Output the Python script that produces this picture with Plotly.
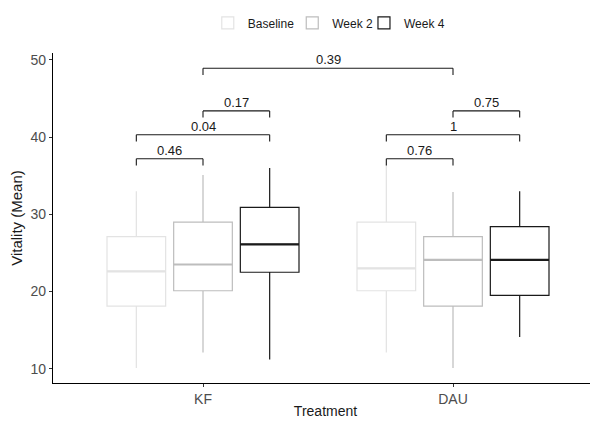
import plotly.graph_objects as go

# ---- data ----
treatments = ["KF", "DAU"]
timepoints = ["Baseline", "Week 2", "Week 4"]
lower_fence = {"Baseline": [10.1, 12.1], "Week 2": [12.1, 10.1], "Week 4": [11.2, 14.1]}
q1_vals = {"Baseline": [18.1, 20.1], "Week 2": [20.1, 18.1], "Week 4": [22.5, 19.5]}
median_vals = {"Baseline": [22.6, 23.0], "Week 2": [23.5, 24.1], "Week 4": [26.1, 24.1]}
q3_vals = {"Baseline": [27.1, 29.0], "Week 2": [29.0, 27.1], "Week 4": [30.9, 28.4]}
upper_fence = {"Baseline": [33.0, 36.5], "Week 2": [35.1, 32.9], "Week 4": [36.0, 33.0]}

# comparisons: (treatment index, group a, group b, bracket height, p label)
comparisons = [
    (0, "Baseline", "Week 2", 37.2, "0.46"),
    (0, "Baseline", "Week 4", 40.3, "0.04"),
    (0, "Week 2", "Week 4", 43.4, "0.17"),
    (1, "Baseline", "Week 2", 37.2, "0.76"),
    (1, "Baseline", "Week 4", 40.3, "1"),
    (1, "Week 2", "Week 4", 43.4, "0.75"),
]
cross_comparison = ("Week 2", 48.93, "0.39")  # KF vs DAU at Week 2

colors = {"Baseline": "#e3e3e3", "Week 2": "#bdbdbd", "Week 4": "#1a1a1a"}
FONT = "Liberation Sans, Arial, sans-serif"

BOXGAP = 0.2
BOXGROUPGAP = 0.12
slot = (1 - BOXGAP) / len(timepoints)
box_w = slot * (1 - BOXGROUPGAP)

legend_ids = {"Baseline": "legend", "Week 2": "legend2", "Week 4": "legend3"}
legend_x = {"legend": 0.284, "legend2": 0.439, "legend3": 0.5706}


def xpos(ti, tp):
    k = timepoints.index(tp)
    return ti + (k - (len(timepoints) - 1) / 2) * slot


fig = go.Figure()
for tp in timepoints:
    fig.add_trace(go.Box(
        x=treatments,
        q1=q1_vals[tp], median=median_vals[tp], q3=q3_vals[tp],
        lowerfence=lower_fence[tp], upperfence=upper_fence[tp],
        name=tp,
        line=dict(color=colors[tp], width=1.2),
        fillcolor="white",
        boxpoints=False,
        whiskerwidth=0,
        hoverinfo="skip",
        legend=legend_ids[tp],
    ))

shapes = []
# thicker median lines (as in ggplot)
for tp in timepoints:
    for ti in range(len(treatments)):
        xc = xpos(ti, tp)
        shapes.append(dict(type="line", xref="x", yref="y",
                           x0=xc - box_w / 2, x1=xc + box_w / 2,
                           y0=median_vals[tp][ti], y1=median_vals[tp][ti],
                           line=dict(color=colors[tp], width=2.2)))

annotations = []
TICK = 0.87


def bracket(xa, xb, yb, label):
    shapes.append(dict(type="line", xref="x", yref="y", x0=xa, x1=xb, y0=yb, y1=yb,
                       line=dict(color="#1a1a1a", width=1.1)))
    for xx in (xa, xb):
        shapes.append(dict(type="line", xref="x", yref="y", x0=xx, x1=xx, y0=yb, y1=yb - TICK,
                           line=dict(color="#1a1a1a", width=1.1)))
    annotations.append(dict(x=(xa + xb) / 2, y=yb, xref="x", yref="y", text=label,
                            showarrow=False, yanchor="bottom", yshift=-1,
                            font=dict(family=FONT, size=13, color="#1a1a1a")))


for ti, a, b, yb, lab in comparisons:
    bracket(xpos(ti, a), xpos(ti, b), yb, lab)
tp_c, y_c, lab_c = cross_comparison
bracket(xpos(0, tp_c), xpos(1, tp_c), y_c, lab_c)

legend_common = dict(orientation="h", xanchor="left", y=1.091, yanchor="middle",
                     font=dict(family=FONT, size=12, color="#1a1a1a"),
                     itemwidth=30, bgcolor="rgba(0,0,0,0)")

fig.update_layout(
    width=590, height=418,
    margin=dict(l=45, r=0, t=45, b=43, autoexpand=False),
    paper_bgcolor="white", plot_bgcolor="white",
    boxmode="group", boxgap=BOXGAP, boxgroupgap=BOXGROUPGAP,
    font=dict(family=FONT, color="#4d4d4d"),
    showlegend=True,
    legend=dict(x=legend_x["legend"], **legend_common),
    legend2=dict(x=legend_x["legend2"], **legend_common),
    legend3=dict(x=legend_x["legend3"], **legend_common),
    shapes=shapes, annotations=annotations,
    xaxis=dict(type="category", range=[-0.6, 1.58], showline=True, linecolor="black",
               linewidth=1.1, ticks="outside", ticklen=3, tickcolor="#333333",
               tickfont=dict(family=FONT, size=14, color="#4d4d4d"), showgrid=False,
               zeroline=False,
               title=dict(text="Treatment", font=dict(family=FONT, size=14, color="#1a1a1a"),
                          standoff=0)),
    yaxis=dict(range=[8.15, 50.9], tickvals=[10, 20, 30, 40, 50], showline=True,
               linecolor="black", linewidth=1.1, ticks="outside", ticklen=3,
               tickcolor="#333333", tickfont=dict(family=FONT, size=14, color="#4d4d4d"),
               showgrid=False, zeroline=False,
               title=dict(text="Vitality (Mean)", font=dict(family=FONT, size=15, color="#1a1a1a"),
                          standoff=4)),
)

fig.write_html("out.html")
